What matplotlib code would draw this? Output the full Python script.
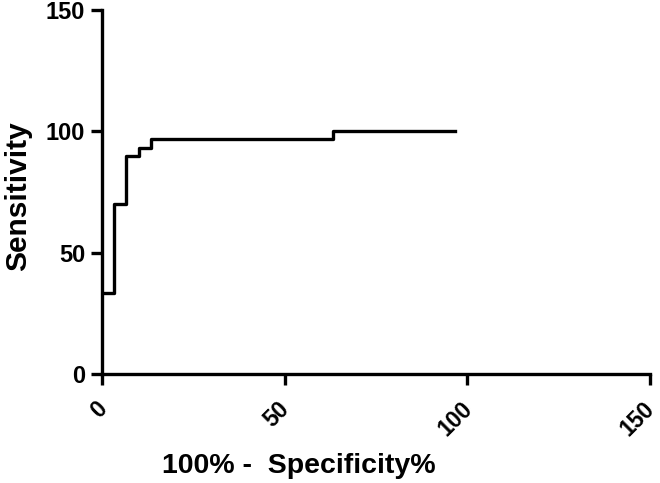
import matplotlib
matplotlib.use("Agg")
import matplotlib.pyplot as plt
from matplotlib.transforms import ScaledTranslation

# ROC curve (step points, 'post')
fpr = [0, 3.33, 6.67, 10.0, 13.33, 63.33, 96.67]
sens = [33.33, 70.0, 90.0, 93.33, 96.67, 100.0, 100.0]
x_ticks = [0, 50, 100, 150]
y_ticks = [0, 50, 100, 150]

plt.rcParams["font.family"] = ["Liberation Sans", "DejaVu Sans"]
plt.rcParams["font.weight"] = "bold"

fig = plt.figure(figsize=(6.6, 4.83), dpi=100)
ax = fig.add_axes([102 / 660, 109 / 483, 548 / 660, 364 / 483])

ax.step(fpr, sens, where="post", color="black", linewidth=2.4)

ax.set_xlim(0, 150)
ax.set_ylim(0, 150)
ax.set_xticks(x_ticks)
ax.set_yticks(y_ticks)

for side in ("top", "right"):
    ax.spines[side].set_visible(False)
for side in ("left", "bottom"):
    ax.spines[side].set_linewidth(2.4)
ax.tick_params(direction="out", length=8, width=2.4, pad=4)
ax.tick_params(axis="x", pad=9)

ax.set_xticklabels([str(t) for t in x_ticks], rotation=45, ha="right",
                   rotation_mode="anchor", fontsize=16.5, fontweight="bold")
ax.set_yticklabels([str(t) for t in y_ticks], fontsize=17, fontweight="bold")

# move the rotated labels a bit left so the last one stays on the canvas
# (done after tick_params, which would reset the transforms)
shift = ScaledTranslation(-7 / 100, 0, fig.dpi_scale_trans)
for lbl in ax.get_xticklabels():
    lbl.set_transform(lbl.get_transform() + shift)

ax.set_xlabel("100% -  Specificity%", fontsize=20.5, fontweight="bold")
ax.set_ylabel("Sensitivity", fontsize=21.5, fontweight="bold")
ax.xaxis.set_label_coords(0.36, -0.218)
ax.yaxis.set_label_coords(-0.127, 0.49)

fig.savefig("out.png", dpi=100)
